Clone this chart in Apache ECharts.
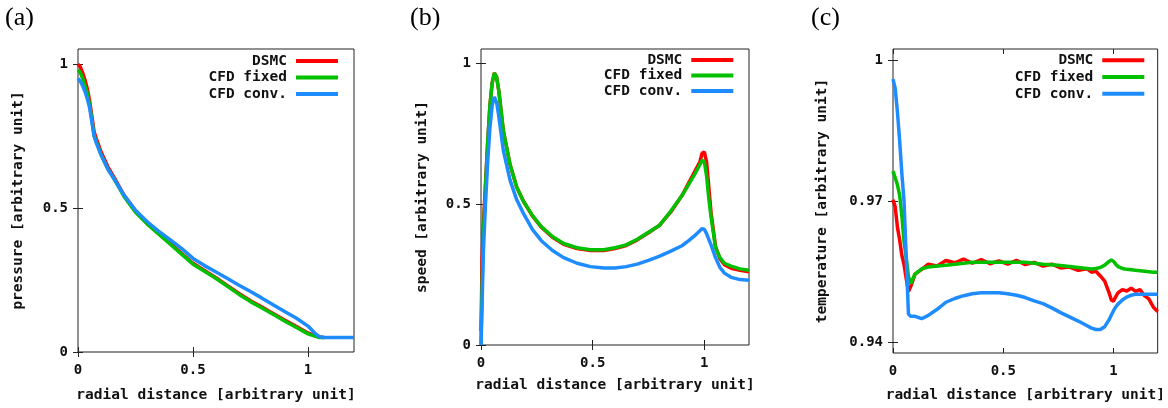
<!DOCTYPE html>
<html><head><meta charset="utf-8">
<script src="https://cdn.jsdelivr.net/npm/echarts@6/dist/echarts.min.js"></script>
<style>html,body{margin:0;padding:0;background:#fff}#c{width:1168px;height:408px}</style>
</head><body><div id="c"></div>
<script>
// ---- labels / ticks ----
const seriesNames = ['DSMC', 'CFD fixed', 'CFD conv.'];
const panelTags = ['(a)', '(b)', '(c)'];
const yNames = ['pressure [arbitrary unit]', 'speed [arbitrary unit]', 'temperature [arbitrary unit]'];
const xName = 'radial distance [arbitrary unit]';
const xTicks = [0, 0.5, 1];
const yTicksA = [0, 0.5, 1];
const yTicksB = [0, 0.5, 1];
const yTicksC = [0.94, 0.97, 1];

// ---- panel (a): pressure ----
const xA = [0,0.01,0.02,0.03,0.04,0.05,0.06,0.07,0.08,0.1,0.13,0.16,0.2,0.25,0.3,0.35,0.4,0.45,0.5,0.55,0.6,0.65,0.7,0.75,0.8,0.85,0.9,0.95,1.0,1.03,1.05,1.07,1.1,1.15,1.2];
const pDSMC  = [1.0,0.99,0.97,0.945,0.915,0.875,0.82,0.765,0.74,0.695,0.643,0.602,0.545,0.49,0.448,0.412,0.378,0.343,0.308,0.283,0.258,0.23,0.203,0.178,0.156,0.133,0.11,0.088,0.066,0.057,0.052,0.05,null,null,null];
const pFixed = [0.98,0.97,0.95,0.925,0.9,0.86,0.81,0.75,0.73,0.685,0.635,0.597,0.54,0.485,0.445,0.41,0.375,0.34,0.305,0.28,0.255,0.228,0.2,0.175,0.153,0.13,0.107,0.085,0.063,0.055,0.05,0.05,null,null,null];
const pConv  = [0.95,0.94,0.925,0.905,0.88,0.85,0.8,0.75,0.725,0.685,0.635,0.597,0.545,0.492,0.453,0.42,0.39,0.36,0.325,0.3,0.278,0.255,0.232,0.21,0.187,0.163,0.14,0.117,0.09,0.065,0.053,0.05,0.05,0.05,0.05];

// ---- panel (b): speed ----
const xB = [0,0.005,0.01,0.02,0.03,0.04,0.05,0.06,0.065,0.07,0.08,0.1,0.13,0.16,0.19,0.23,0.27,0.32,0.37,0.43,0.49,0.55,0.6,0.65,0.7,0.75,0.8,0.85,0.9,0.93,0.96,0.98,0.99,1.0,1.01,1.02,1.03,1.05,1.07,1.09,1.12,1.16,1.2];
const sDSMC  = [0.05,0.3,0.42,0.57,0.72,0.85,0.93,0.965,0.965,0.95,0.9,0.76,0.64,0.56,0.51,0.458,0.418,0.382,0.357,0.342,0.335,0.335,0.342,0.353,0.373,0.398,0.425,0.472,0.53,0.575,0.62,0.65,0.68,0.685,0.65,0.56,0.47,0.35,0.305,0.285,0.272,0.265,0.26];
const sFixed = [0,0.2,0.38,0.56,0.72,0.85,0.93,0.965,0.965,0.95,0.9,0.76,0.64,0.56,0.51,0.46,0.42,0.385,0.36,0.345,0.338,0.338,0.345,0.355,0.375,0.4,0.425,0.475,0.53,0.57,0.61,0.64,0.655,0.65,0.6,0.52,0.455,0.345,0.31,0.29,0.28,0.27,0.265];
const sConv  = [0,0.15,0.32,0.5,0.65,0.77,0.85,0.88,0.88,0.86,0.81,0.69,0.585,0.515,0.467,0.41,0.37,0.335,0.31,0.29,0.278,0.273,0.273,0.278,0.287,0.3,0.315,0.333,0.352,0.37,0.39,0.405,0.413,0.41,0.395,0.375,0.355,0.31,0.275,0.255,0.24,0.232,0.23];

// ---- panel (c): temperature ----
const xC = [0,0.01,0.02,0.03,0.04,0.05,0.06,0.07,0.08,0.1,0.13,0.16,0.2,0.24,0.28,0.32,0.36,0.4,0.44,0.48,0.52,0.56,0.6,0.64,0.68,0.72,0.76,0.8,0.84,0.88,0.9,0.92,0.94,0.96,0.98,0.99,1.0,1.01,1.02,1.04,1.06,1.08,1.1,1.12,1.14,1.16,1.18,1.2];
const tDSMC  = [0.9703,0.9688,0.9645,0.9618,0.9585,0.9565,0.9535,0.9508,0.9518,0.9545,0.9555,0.9566,0.9562,0.9574,0.9569,0.9577,0.9568,0.9576,0.9567,0.9573,0.9566,0.9574,0.9565,0.957,0.9562,0.9566,0.9558,0.956,0.9553,0.9556,0.9549,0.9551,0.9541,0.953,0.9505,0.949,0.9487,0.9497,0.9505,0.9512,0.9509,0.9515,0.9508,0.9512,0.9499,0.9492,0.9475,0.9465];
const tFixed = [0.9764,0.975,0.9735,0.9713,0.967,0.9615,0.958,0.954,0.9525,0.9545,0.9556,0.956,0.9562,0.9564,0.9566,0.9568,0.957,0.957,0.957,0.957,0.957,0.957,0.957,0.9568,0.9566,0.9565,0.9563,0.9561,0.9559,0.9557,0.9556,0.9557,0.9559,0.9564,0.9572,0.9575,0.9572,0.9566,0.9561,0.9557,0.9555,0.9554,0.9553,0.9552,0.9551,0.955,0.9549,0.9549];
const tConv  = [0.996,0.994,0.989,0.983,0.976,0.97,0.958,0.946,0.9455,0.9455,0.945,0.9457,0.947,0.9485,0.9493,0.9499,0.9503,0.9505,0.9505,0.9505,0.9503,0.95,0.9495,0.9488,0.9482,0.9473,0.9463,0.9454,0.9445,0.9435,0.943,0.9427,0.9427,0.9433,0.9448,0.9458,0.9467,0.9475,0.9481,0.949,0.9496,0.95,0.9502,0.9502,0.9502,0.9502,0.9502,0.9502];

// ---- style / layout (not data) ----
const colors = ['#ff0000', '#00c000', '#1e8cff'];
const FONT = 'DejaVu Sans Mono';
const grids = [
  {left: 78, top: 49, width: 276, height: 305},
  {left: 481, top: 49, width: 268, height: 296},
  {left: 893, top: 49, width: 267, height: 305}
];
const yRanges = [[0, 1.052], [0, 1.05], [0.9377, 1.0024]];
const yTickSets = [yTicksA, yTicksB, yTicksC];
const xNameGaps = [36, 33, 35];
const yNameGaps = [52, 51, 63];
const tagLeft = [5, 410, 811];
const legendRight = [830, 434.7, 23.7];
const legendTop = [52.7, 52.2, 52];
const legendLH = [16.5, 15.5, 16.7];
const panels = [
  {x: xA, ys: [pDSMC, pFixed, pConv]},
  {x: xB, ys: [sDSMC, sFixed, sConv]},
  {x: xC, ys: [tDSMC, tFixed, tConv]}
];

function pairs(xs, ys) {
  const out = [];
  for (let i = 0; i < xs.length; i++) if (ys[i] != null) out.push([xs[i], ys[i]]);
  return out;
}
const tickFont = {fontFamily: FONT, fontWeight: 'bold', fontSize: 14, color: '#111'};
const nameFont = {fontFamily: FONT, fontWeight: 'bold', fontSize: 14.5, color: '#111'};

const option = {
  animation: false,
  backgroundColor: '#fff',
  title: panelTags.map((t, i) => ({
    text: t, left: tagLeft[i], top: 5, padding: 0,
    textStyle: {fontFamily: 'Liberation Serif', fontSize: 26, fontWeight: 'normal', color: '#000'}
  })),
  grid: grids.map(g => Object.assign({show: true, borderColor: '#222', borderWidth: 1, containLabel: false}, g)),
  legend: [0, 1, 2].map(i => ({
    data: seriesNames, orient: 'vertical', align: 'right', right: legendRight[i], top: legendTop[i],
    padding: 0, itemGap: 0, itemWidth: 42, itemHeight: 4, icon: 'rect', selectedMode: false,
    textStyle: Object.assign({}, nameFont, {lineHeight: legendLH[i], padding: [0, 4, 0, 0]})
  })),
  xAxis: [],
  yAxis: [],
  series: []
};

for (let i = 0; i < 3; i++) {
  const tickStyle = {inside: true, length: 5, lineStyle: {color: '#222', width: 1}};
  option.xAxis.push({
    type: 'value', gridIndex: i, min: 0, max: 1.2, position: 'bottom',
    axisLine: {show: false}, splitLine: {show: false},
    axisTick: Object.assign({customValues: xTicks}, tickStyle),
    axisLabel: Object.assign({customValues: xTicks, margin: 11}, tickFont),
    name: xName, nameLocation: 'middle', nameGap: xNameGaps[i], nameTextStyle: nameFont
  });
  option.xAxis.push({
    type: 'value', gridIndex: i, min: 0, max: 1.2, position: 'top',
    axisLine: {show: false}, splitLine: {show: false},
    axisTick: Object.assign({customValues: xTicks}, tickStyle),
    axisLabel: {show: false}
  });
  option.yAxis.push({
    type: 'value', gridIndex: i, min: yRanges[i][0], max: yRanges[i][1], position: 'left',
    axisLine: {show: false}, splitLine: {show: false},
    axisTick: Object.assign({customValues: yTickSets[i]}, tickStyle),
    axisLabel: Object.assign({customValues: yTickSets[i], margin: 10}, tickFont),
    name: yNames[i], nameLocation: 'middle', nameGap: yNameGaps[i], nameRotate: 90, nameTextStyle: nameFont
  });
  option.yAxis.push({
    type: 'value', gridIndex: i, min: yRanges[i][0], max: yRanges[i][1], position: 'right',
    axisLine: {show: false}, splitLine: {show: false},
    axisTick: Object.assign({customValues: yTickSets[i]}, tickStyle),
    axisLabel: {show: false}
  });
  for (let s = 0; s < 3; s++) {
    option.series.push({
      type: 'line', name: seriesNames[s], xAxisIndex: 2 * i, yAxisIndex: 2 * i,
      data: pairs(panels[i].x, panels[i].ys[s]),
      showSymbol: false, symbol: 'none', clip: true,
      lineStyle: {color: colors[s], width: 3.5},
      itemStyle: {color: colors[s]}
    });
  }
}

const chart = echarts.init(document.getElementById('c'), null, {renderer: 'canvas'});
chart.setOption(option);
</script>
</body></html>
